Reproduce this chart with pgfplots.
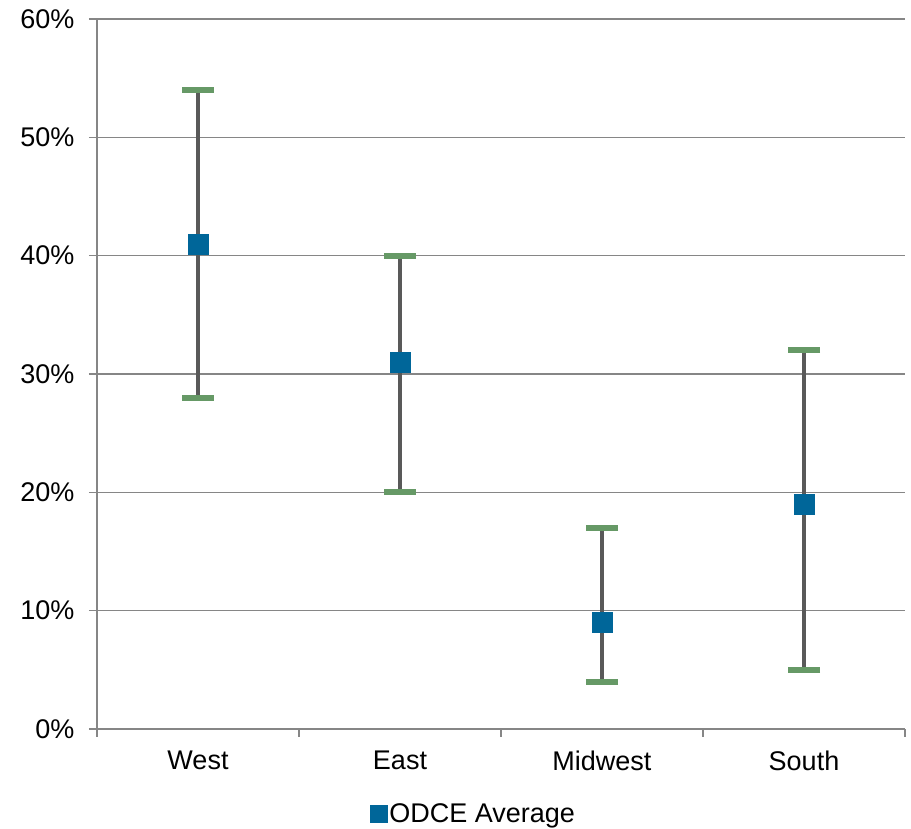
\documentclass[border=0pt]{standalone}
\usepackage{fontspec}
\setmainfont{Liberation Sans}
\usepackage{pgfplots}
\pgfplotsset{compat=1.18}
\definecolor{gridgray}{RGB}{134,134,134}
\definecolor{whisk}{RGB}{89,89,89}
\definecolor{capgreen}{RGB}{102,153,102}
\definecolor{odce}{RGB}{0,102,153}
\begin{document}
\begin{tikzpicture}[x=1pt,y=1pt]
\useasboundingbox (-97,-100) rectangle (814,729);
\begin{axis}[at={(0,0)}, anchor=south west, scale only axis,
  width=808pt, height=710pt,
  xmin=-0.5, xmax=3.5, ymin=0, ymax=60,
  axis x line*=bottom, axis y line*=left,
  axis line style={gridgray, line width=1.5pt, -},
  xtick={0,1,2,3}, xticklabels={West,East,Midwest,South},
  minor xtick={-0.5,0.5,1.5,2.5,3.5},
  ytick={0,10,...,60}, yticklabels={0\%,10\%,20\%,30\%,40\%,50\%,60\%},
  tick align=outside,
  major tick length=8pt, minor tick length=8pt,
  tick style={gridgray, line width=1.5pt},
  major x tick style={draw=none},
  ymajorgrids, grid style={gridgray, line width=1.5pt},
  ticklabel style={font=\fontsize{27}{32}\selectfont, text=black},
  yticklabel style={xshift=-11pt},
  xticklabel style={yshift=-10pt},
  legend style={at={(0.466,-0.119)}, anchor=center, draw=none, fill=none,
    font=\fontsize{27}{32}\selectfont, inner sep=0pt,
    /tikz/every even column/.append style={column sep=0pt}},
  legend image code/.code={\fill[odce] (0pt,-8.5pt) rectangle (17pt,8.5pt);},
  clip=false,
]
\addplot[forget plot, whisk, line width=4pt] coordinates {(0,28) (0,54)};
\addplot[forget plot, whisk, line width=4pt] coordinates {(1,20) (1,40)};
\addplot[forget plot, whisk, line width=4pt] coordinates {(2,4) (2,17)};
\addplot[forget plot, whisk, line width=4pt] coordinates {(3,5) (3,32)};
\addplot[forget plot, only marks, mark=-, mark size=16pt, mark options={draw=capgreen, line width=6pt}]
  coordinates {(0,54) (0,28) (1,40) (1,20) (2,17) (2,4) (3,32) (3,5)};
\addplot[only marks, mark=square*, mark size=10pt, color=odce, mark options={draw=odce, fill=odce, line width=0.5pt}]
  coordinates {(0,41) (1,31) (2,9) (3,19)};
\addlegendentry{ODCE Average}
\end{axis}
\end{tikzpicture}
\end{document}
